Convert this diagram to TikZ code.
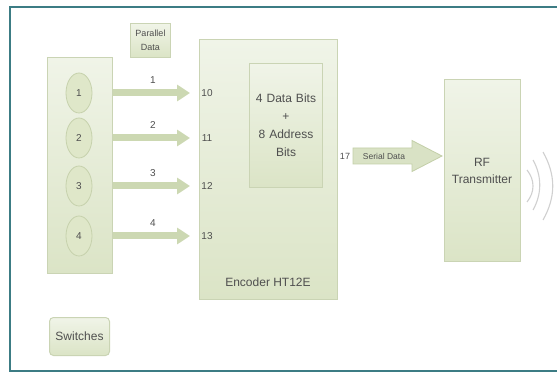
\documentclass[tikz,border=0pt]{standalone}
\usepackage{fontspec}
\setmainfont{Liberation Sans}
\usetikzlibrary{arrows.meta,calc,shapes.geometric}
\definecolor{framec}{HTML}{3C7C84}
\definecolor{boxline}{HTML}{CAD4B4}
\definecolor{boxtop}{HTML}{F0F4E8}
\definecolor{boxbot}{HTML}{DBE4C6}
\definecolor{ellfill}{HTML}{DFE7C9}
\definecolor{ellline}{HTML}{C6D1AC}
\definecolor{arrowc}{HTML}{CCD8B2}
\definecolor{arrowline}{HTML}{C3CFA8}
\definecolor{txt}{HTML}{4F4F4F}
\definecolor{wavec}{HTML}{D0D0D0}
\begin{document}
\begin{tikzpicture}[x=1pt,y=-1pt,
  box/.style={draw=boxline, line width=1pt, top color=boxtop, bottom color=boxbot,
    anchor=north west, inner sep=0pt, text=txt, font=\fontsize{12}{18}\selectfont, align=center},
  sw/.style={ellipse, draw=ellline, line width=0.8pt, fill=ellfill, minimum width=26pt,
    minimum height=40pt, inner sep=0pt, text=txt, font=\fontsize{10}{12}\selectfont},
  pin/.style={text=txt, font=\fontsize{10}{12}\selectfont, inner sep=0pt},
  lbl/.style={text=txt, font=\fontsize{12}{17}\selectfont, inner sep=0pt, align=center},
  par/.style={-{Triangle[width=16pt,length=13pt]}, line width=7pt, draw=arrowc, shorten >=9pt},
  wave/.style={draw=wavec, line width=1.1pt}]
\useasboundingbox (0,0) rectangle (557,374);
\fill[white] (0,0) rectangle (557,374);
\draw[framec, line width=2pt] (10,7) rectangle (562,371);

% switch panel
\node[box, minimum width=65pt, minimum height=216pt] (panel) at (47,57) {};
\node[sw] (s1) at (79,93) {1};
\node[sw] (s2) at (79,138) {2};
\node[sw] (s3) at (79,186) {3};
\node[sw] (s4) at (79,236) {4};

% encoder
\node[box, minimum width=138pt, minimum height=260pt] (enc) at (199,39) {};
\node[box, minimum width=73pt, minimum height=124pt, text width=73pt] (inner) at (249,63)
  {4 Data Bits\\+\\8 Address\\Bits};
\node[lbl] (enclbl) at (268,282) {Encoder HT12E};

% parallel data
\node[box, minimum width=40pt, minimum height=34pt, font=\fontsize{9}{14}\selectfont] (pd) at (130,23) {Parallel\\Data};

% pin labels
\node[pin] (p10) at (207,93) {10};
\node[pin] (p11) at (207,138) {11};
\node[pin] (p12) at (207,186) {12};
\node[pin] (p13) at (207,236) {13};

% parallel arrows
\foreach \i/\n in {1/1,2/2,3/3,4/4}{
  \coordinate (a\i) at (panel.east |- s\i);
  \draw[par] (a\i) -- (enc.west |- s\i);
  \node[pin] (n\i) at ($(a\i)+(40,-13)$) {\n};
}

% RF transmitter
\node[box, minimum width=76pt, minimum height=182pt] (rf) at (444,79) {};
\node[lbl] (rflbl) at (482,171) {RF\\Transmitter};

% serial data arrow
\node[pin, font=\fontsize{9}{11}\selectfont] (p17) at (345,156) {17};
\coordinate (sa) at (353,156);
\coordinate (sb) at ($(rf.west |- sa)+(-2,0)$);
\filldraw[fill=arrowc!75!white, draw=arrowline, line width=0.8pt]
  ($(sa)+(0,-8)$) -- ($(sb)+(-30,-8)$) -- ($(sb)+(-30,-15.5)$) -- (sb)
  -- ($(sb)+(-30,15.5)$) -- ($(sb)+(-30,8)$) -- ($(sa)+(0,8)$) -- cycle;
\node[pin, font=\fontsize{8.5}{10}\selectfont] (sdl) at (384,156) {Serial Data};

% switches label
\node[box, minimum width=60pt, minimum height=38pt, rounded corners=4pt] (swl) at (49,317) {Switches};

% waves
\draw[wave] (527,170) .. controls (535,180) and (535,192) .. (527,202);
\draw[wave] (533,160) .. controls (542,176) and (542,194) .. (533,210);
\draw[wave] (543,152) .. controls (556,175) and (556,197) .. (543,220);
\end{tikzpicture}
\end{document}
